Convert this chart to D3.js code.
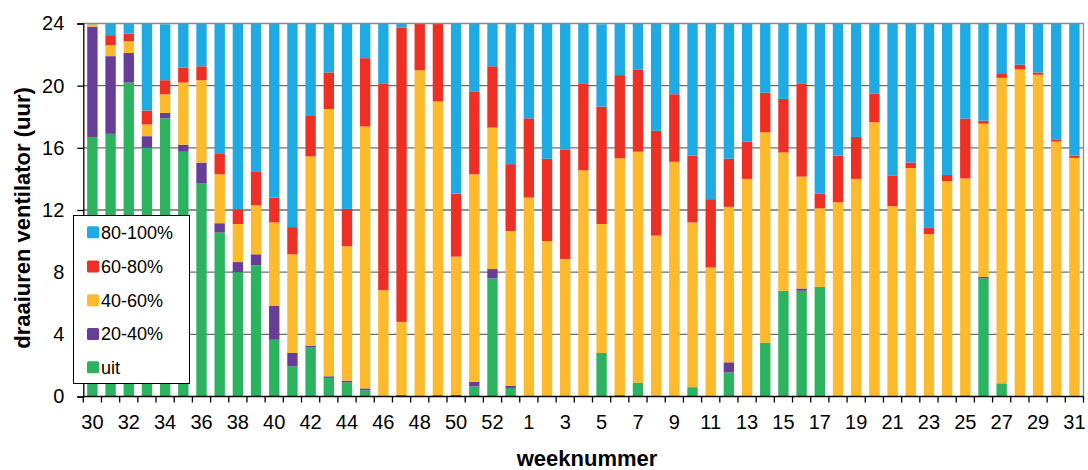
<!DOCTYPE html>
<html><head><meta charset="utf-8">
<script src="https://cdn.jsdelivr.net/npm/d3@7"></script>
<style>body{margin:0;background:#fff}svg{display:block;font-family:"Liberation Sans",Arial,sans-serif}</style>
</head><body>
<svg id="c" width="1088" height="470"></svg>
<script>
const weeks = [30,31,32,33,34,35,36,37,38,39,40,41,42,43,44,45,46,47,48,49,50,51,52,53,
  1,2,3,4,5,6,7,8,9,10,11,12,13,14,15,16,17,18,19,20,21,22,23,24,25,26,27,28,29,30,31];
const uit = [16.7,16.9,20.2,16.0,17.9,15.75,13.7,10.55,8.0,8.45,3.65,1.95,3.15,1.2,0.9,0.4,0.05,0.05,0,0,0,0.65,7.6,0.55,
  0,0,0,0.05,2.8,0,0.9,0.05,0,0.6,0,1.55,0,3.45,6.8,6.8,7.05,0,0,0,0,0,0,0,0.08,7.6,0.85,0,0,0,0.05];
const p20_40 = [7.1,5.0,1.9,0.75,0.35,0.45,1.35,0.6,0.65,0.7,2.2,0.85,0.1,0.1,0.12,0.12,0,0.05,0,0.08,0.1,0.3,0.6,0.15,
  0,0,0,0,0,0.08,0,0,0,0,0,0.65,0,0,0,0.15,0,0,0,0,0,0,0,0,0,0.1,0,0,0,0,0];
const p40_60 = [0.15,0.7,0.75,0.75,1.2,4.0,5.3,3.15,2.45,3.15,5.35,6.35,12.2,17.2,8.65,16.85,6.8,4.7,21.0,18.9,8.9,13.35,9.1,9.95,
  12.8,10.0,8.85,14.5,8.3,15.25,14.85,10.3,15.1,10.6,8.3,10.0,14.0,13.55,8.9,7.2,5.05,12.5,14.0,17.65,12.25,14.7,10.45,13.85,13.95,9.85,19.65,21.05,20.7,16.4,15.3];
const p60_80 = [0,0.65,0.5,0.9,0.9,0.95,0.9,1.35,0.95,2.15,1.6,1.75,2.6,2.35,2.4,4.4,13.3,18.95,3.0,5.0,4.05,5.3,3.95,4.3,
  5.1,5.3,7.05,5.6,7.55,5.35,5.3,6.75,4.35,4.3,4.4,3.1,2.4,2.55,3.45,6.0,0.95,3.0,2.7,1.85,1.95,0.35,0.4,0.4,3.85,0.2,0.25,0.3,0.15,0.15,0.15];
const p80_100 = [0.05,0.8,0.65,5.6,3.6,2.85,2.75,8.35,11.95,9.55,11.2,13.1,5.95,3.15,11.95,2.2,3.85,0.25,0,0,10.95,4.4,2.75,9.05,
  6.1,8.7,8.1,3.85,5.3,3.32,2.95,6.9,4.55,8.5,11.3,8.7,7.6,4.45,4.85,3.85,10.95,8.5,7.3,4.5,9.8,8.95,13.15,9.75,6.1,6.25,3.25,2.65,3.15,7.45,8.5];
const seriesNames = ["uit","20-40%","40-60%","60-80%","80-100%"];
const seriesColors = ["#2bb35f","#663d97","#fdba2c","#ee3024","#1eaae2"];
const yTicks = [0,4,8,12,16,20,24];
const yTitle = "draaiuren ventilator (uur)";
const xTitle = "weeknummer";

const svg = d3.select("#c");
const L = 83.3, R = 1083.5, T = 23.5, B = 396.5;
const idx = weeks.map((w,i)=>i);
const x = d3.scaleBand().domain(idx).range([L,R]).paddingInner(0.43).paddingOuter(0.215);
const y = d3.scaleLinear().domain([0,24]).range([B,T]);

// gridlines
svg.append("g").selectAll("line").data(yTicks.filter(t=>t>0&&t<24)).join("line")
  .attr("x1",L).attr("x2",R).attr("y1",d=>y(d)).attr("y2",d=>y(d))
  .attr("stroke","#6e6e6e").attr("stroke-width",1.3);

// stacked bars
const rows = idx.map(i=>({i, v:[uit[i],p20_40[i],p40_60[i],p60_80[i],p80_100[i]]}));
const keys = [0,1,2,3,4];
const stack = d3.stack().keys(keys).value((d,k)=>d.v[k]);
const layers = stack(rows);
svg.append("defs").append("clipPath").attr("id","pc").append("rect")
  .attr("x",L).attr("y",T).attr("width",R-L).attr("height",B-T);
const gb = svg.append("g").attr("clip-path","url(#pc)");
layers.forEach((layer,k)=>{
  gb.append("g").attr("fill",seriesColors[k]).selectAll("rect").data(layer).join("rect")
    .attr("x",d=>x(d.data.i)).attr("width",x.bandwidth())
    .attr("y",d=>y(Math.min(24,d[1]))).attr("height",d=>Math.max(0,y(d[0])-y(Math.min(24,d[1]))));
});

// frame top/right
svg.append("path").attr("d",`M${L},${T}H${R}V${B}`).attr("fill","none").attr("stroke","#8a8a8a").attr("stroke-width",1.3);

// y axis
const ya = svg.append("g").attr("transform",`translate(${L},0)`)
  .call(d3.axisLeft(y).tickValues(yTicks).tickSize(6).tickPadding(13).tickFormat(d3.format("d")));
ya.select(".domain").attr("stroke","#000").attr("stroke-width",1.3);
ya.selectAll(".tick line").attr("stroke","#000").attr("stroke-width",1.3);
ya.selectAll("text").attr("font-size",20).attr("font-family","Liberation Sans, Arial, sans-serif").attr("fill","#000");

// x axis: ticks at band boundaries
const bounds = d3.range(weeks.length+1).map(j=>L + j*(R-L)/weeks.length);
svg.append("line").attr("x1",L).attr("x2",R).attr("y1",B).attr("y2",B).attr("stroke","#000").attr("stroke-width",1.3);
svg.append("g").selectAll("line").data(bounds).join("line")
  .attr("x1",d=>d).attr("x2",d=>d).attr("y1",B).attr("y2",B+6).attr("stroke","#000").attr("stroke-width",1.3);
svg.append("g").selectAll("text").data(idx.filter(i=>i%2===0)).join("text")
  .attr("x",i=>x(i)+x.bandwidth()/2).attr("y",429).attr("text-anchor","middle")
  .attr("font-size",20).attr("fill","#000").text(i=>weeks[i]);

// titles
svg.append("text").attr("x",587).attr("y",466).attr("text-anchor","middle")
  .attr("font-size",22).attr("font-weight","bold").text(xTitle);
svg.append("text").attr("transform","translate(29.5,218) rotate(-90)").attr("text-anchor","middle")
  .attr("font-size",22).attr("font-weight","bold").text(yTitle);

// legend
const lg = svg.append("g");
lg.append("rect").attr("x",73.5).attr("y",215.5).attr("width",116).attr("height",168)
  .attr("fill","#fff").attr("stroke","#000").attr("stroke-width",1);
const order = [4,3,2,1,0];
const ly = [232.3,266.5,300.2,334,367.3];
order.forEach((k,j)=>{
  lg.append("rect").attr("x",87).attr("y",ly[j]-6).attr("width",12).attr("height",12).attr("rx",1.5).attr("fill",seriesColors[k]);
  lg.append("text").attr("x",101).attr("y",ly[j]).attr("dy","0.36em").attr("font-size",18).text(seriesNames[k]);
});
</script>
</body></html>
